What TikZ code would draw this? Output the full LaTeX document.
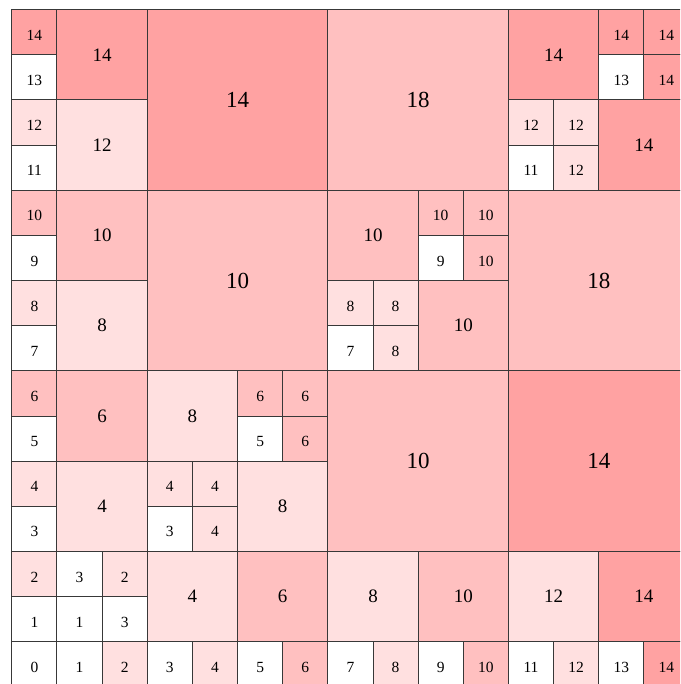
\documentclass[tikz,border=0pt]{standalone}
\usepackage{fontspec}
\setmainfont{Liberation Serif}
\definecolor{dp}{RGB}{255,162,162}
\definecolor{mp}{RGB}{255,192,192}
\definecolor{lp}{RGB}{255,224,224}
\tikzset{
  cellbase/.style={draw=black!78, line width=1pt, inner sep=0pt, text=black},
  s1/.style={cellbase, minimum width=45.15pt, minimum height=45.15pt, font=\fontsize{15.5}{15.5}\selectfont, text height=16pt, text depth=0pt},
  s2/.style={cellbase, minimum width=90.3pt, minimum height=90.3pt, font=\fontsize{19}{19}\selectfont},
  s4/.style={cellbase, minimum width=180.6pt, minimum height=180.6pt, font=\fontsize{23}{23}\selectfont},
  w/.style={fill=white}, l/.style={fill=lp}, m/.style={fill=mp}, d/.style={fill=dp}
}
\newcommand\cel[5]{\node[s#3,#5] (n#1x#2) at ({#1+#3/2},{#2+#3/2}) {#4};}
\begin{document}
\begin{tikzpicture}
\useasboundingbox (0,0) rectangle (680pt,684pt);
\clip (0,0) rectangle (680pt,684pt);
\fill[white] (0,0) rectangle (680pt,684pt);
\begin{scope}[shift={(11.8pt,-2.95pt)}, x=45.15pt, y=45.15pt]
% row 0
\cel{0}{0}{1}{0}{w}\cel{1}{0}{1}{1}{w}\cel{2}{0}{1}{2}{l}\cel{3}{0}{1}{3}{w}
\cel{4}{0}{1}{4}{l}\cel{5}{0}{1}{5}{w}\cel{6}{0}{1}{6}{m}\cel{7}{0}{1}{7}{w}
\cel{8}{0}{1}{8}{l}\cel{9}{0}{1}{9}{w}\cel{10}{0}{1}{10}{m}\cel{11}{0}{1}{11}{w}
\cel{12}{0}{1}{12}{l}\cel{13}{0}{1}{13}{w}\cel{14}{0}{1}{14}{d}
% column 0
\cel{0}{1}{1}{1}{w}\cel{0}{2}{1}{2}{l}\cel{0}{3}{1}{3}{w}\cel{0}{4}{1}{4}{l}
\cel{0}{5}{1}{5}{w}\cel{0}{6}{1}{6}{m}\cel{0}{7}{1}{7}{w}\cel{0}{8}{1}{8}{l}
\cel{0}{9}{1}{9}{w}\cel{0}{10}{1}{10}{m}\cel{0}{11}{1}{11}{w}\cel{0}{12}{1}{12}{l}
\cel{0}{13}{1}{13}{w}\cel{0}{14}{1}{14}{d}
% columns 1-2
\cel{1}{2}{1}{3}{w}\cel{2}{2}{1}{2}{l}\cel{1}{1}{1}{1}{w}\cel{2}{1}{1}{3}{w}
\cel{1}{3}{2}{4}{l}\cel{1}{5}{2}{6}{m}\cel{1}{7}{2}{8}{l}
\cel{1}{9}{2}{10}{m}\cel{1}{11}{2}{12}{l}\cel{1}{13}{2}{14}{d}
% rows 1-2
\cel{3}{1}{2}{4}{l}\cel{5}{1}{2}{6}{m}\cel{7}{1}{2}{8}{l}
\cel{9}{1}{2}{10}{m}\cel{11}{1}{2}{12}{l}\cel{13}{1}{2}{14}{d}
% block cols 3-6 rows 3-6
\cel{3}{5}{2}{8}{l}
\cel{5}{6}{1}{6}{m}\cel{6}{6}{1}{6}{m}\cel{5}{5}{1}{5}{w}\cel{6}{5}{1}{6}{m}
\cel{3}{4}{1}{4}{l}\cel{4}{4}{1}{4}{l}\cel{3}{3}{1}{3}{w}\cel{4}{3}{1}{4}{l}
\cel{5}{3}{2}{8}{l}
% big blocks
\cel{3}{7}{4}{10}{m}\cel{3}{11}{4}{14}{d}
\cel{7}{3}{4}{10}{m}\cel{11}{3}{4}{14}{d}
\cel{11}{7}{4}{18}{m}\cel{7}{11}{4}{18}{m}
% block cols 7-10 rows 7-10
\cel{7}{9}{2}{10}{m}
\cel{9}{10}{1}{10}{m}\cel{10}{10}{1}{10}{m}\cel{9}{9}{1}{9}{w}\cel{10}{9}{1}{10}{m}
\cel{7}{8}{1}{8}{l}\cel{8}{8}{1}{8}{l}\cel{7}{7}{1}{7}{w}\cel{8}{7}{1}{8}{l}
\cel{9}{7}{2}{10}{m}
% block cols 11-14 rows 11-14
\cel{11}{13}{2}{14}{d}
\cel{13}{14}{1}{14}{d}\cel{14}{14}{1}{14}{d}\cel{13}{13}{1}{13}{w}\cel{14}{13}{1}{14}{d}
\cel{11}{12}{1}{12}{l}\cel{12}{12}{1}{12}{l}\cel{11}{11}{1}{11}{w}\cel{12}{11}{1}{12}{l}
\cel{13}{11}{2}{14}{d}
\end{scope}
\end{tikzpicture}
\end{document}
